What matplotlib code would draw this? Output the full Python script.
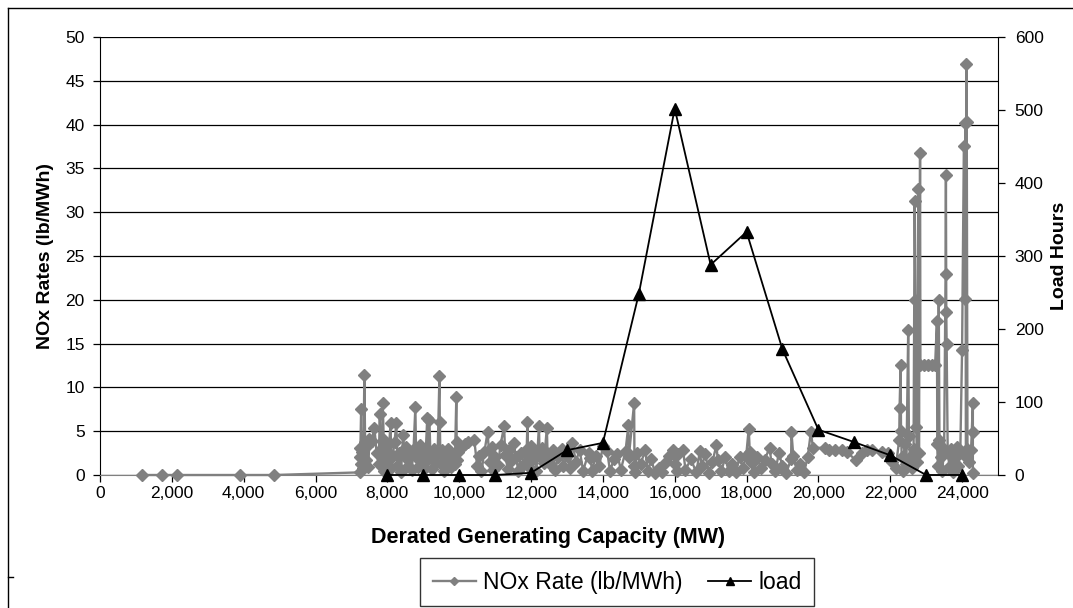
import matplotlib
matplotlib.use("Agg")
import matplotlib.pyplot as plt
from matplotlib.lines import Line2D
from matplotlib.ticker import FuncFormatter, MultipleLocator

plt.rcParams['font.family'] = ['Liberation Sans', 'DejaVu Sans']

# NOx rate for each unit, ordered by derated capacity (MW)
nox_mw = [1180, 1720, 2130, 3900, 4850,
          7230, 7230, 7250, 7270, 7280, 7300, 7330, 7360, 7380, 7400, 7430, 7470, 7500, 7560, 7640,
          7700, 7760, 7790, 7810, 7850, 7870, 7900, 7920, 7960, 8000, 8050, 8090, 8110, 8150, 8200,
          8250, 8280, 8320, 8380, 8440, 8480, 8520, 8580, 8620, 8680, 8730, 8780, 8800, 8850, 8900,
          8950, 9000, 9050, 9110, 9130, 9170, 9200, 9250, 9300, 9350, 9400, 9450, 9460, 9480, 9520,
          9580, 9650, 9700, 9760, 9820, 9880, 9920, 9930, 9940, 9960, 10050, 10150, 10250, 10420,
          10500, 10560, 10620, 10700, 10790, 10850, 10900, 10950, 11000, 11080, 11150, 11250, 11280,
          11350, 11400, 11450, 11520, 11580, 11650, 11720, 11800, 11880, 11900, 11920, 11960, 12000,
          12050, 12100, 12150, 12220, 12240, 12300, 12360, 12440, 12460, 12520, 12600, 12680, 12750,
          12850, 12900, 13000, 13080, 13150, 13250, 13350, 13450, 13600, 13650, 13700, 13800, 13900,
          14000, 14120, 14200, 14300, 14400, 14500, 14630, 14710, 14720, 14870, 14880, 14900, 14950,
          15050, 15180, 15250, 15350, 15450, 15550, 15650, 15750, 15850, 15950, 16000, 16050, 16100,
          16230, 16300, 16450, 16600, 16700, 16750, 16850, 16950, 17050, 17160, 17200, 17300, 17400,
          17500, 17600, 17700, 17810, 17900, 17990, 18060, 18090, 18150, 18200, 18300, 18400, 18500,
          18640, 18700, 18800, 18900, 19000, 19100, 19240, 19250, 19300, 19400, 19500, 19600, 19700,
          19790, 19850, 20170, 20300, 20450, 20660, 20800, 21040, 21200, 21350, 21500, 21770, 21950,
          22050, 22150, 22250, 22260, 22290, 22300, 22320, 22350, 22400, 22450, 22500, 22520, 22550,
          22600, 22650, 22680, 22700, 22720, 22750, 22780, 22800, 22830, 22840, 22950, 23050, 23150,
          23250, 23300, 23310, 23330, 23350, 23370, 23400, 23450, 23500, 23540, 23550, 23560, 23570,
          23600, 23650, 23700, 23750, 23800, 23850, 23900, 23950, 24000, 24050, 24080, 24090, 24110,
          24120, 24130, 24150, 24200, 24250, 24300, 24300, 24300]
nox_rate = [0, 0, 0, 0, 0,
            0.3, 2.0, 3.1, 7.5, 1.2, 2.6, 0.8, 11.4, 3.8, 1.7, 3.3, 0.9, 4.1, 3.9, 5.4,
            2.5, 1.2, 7.0, 3.0, 1.0, 8.2, 4.0, 0.5, 2.8, 1.5, 3.5, 5.9, 0.8, 2.2, 3.8,
            5.9, 1.0, 2.5, 0.3, 4.6, 2.0, 3.2, 1.0, 2.4, 0.6, 3.0, 7.8, 2.0, 0.9, 3.4,
            1.6, 2.6, 0.8, 6.5, 1.8, 6.3, 2.2, 0.7, 3.0, 1.4, 2.5, 11.3, 6.1, 1.2, 2.8,
            0.5, 1.9, 3.0, 0.9, 2.4, 1.3, 8.9, 3.8, 1.7, 2.6, 3.1, 3.5, 3.8, 4.0,
            1.0, 2.2, 0.4, 2.6, 4.9, 1.5, 3.2, 0.6, 2.0, 1.1, 3.4, 5.6, 2.3,
            0.7, 2.9, 1.6, 3.7, 2.0, 0.4, 2.5, 1.2, 3.0, 6.1, 2.2, 0.8, 3.3,
            1.8, 2.6, 0.5, 5.6, 2.0, 3.1, 1.4, 5.4, 2.4, 1.2, 2.8, 0.6, 2.0,
            3.0, 1.0, 2.2, 0.8, 3.7, 1.5, 2.9, 0.5, 2.5, 1.9, 0.5, 2.2, 1.0,
            3.3, 2.7, 0.4, 1.8, 2.4, 0.6, 2.7, 5.7, 2.0, 8.2, 1.0, 0.3, 2.5,
            1.2, 2.9, 0.4, 1.8, 0.2, 0.8, 0.3, 1.5, 2.2, 2.9, 1.2, 0.5, 2.4,
            2.9, 0.6, 1.8, 0.3, 2.7, 1.0, 2.4, 0.2, 1.5, 3.4, 1.7, 0.4, 2.0,
            0.5, 1.2, 0.3, 2.1, 0.8, 2.2, 5.3, 2.6, 1.4, 0.3, 2.0, 0.8, 1.7,
            3.1, 1.2, 0.4, 2.5, 1.0, 0.2, 1.8, 4.9, 2.2, 0.6, 1.3, 0.3, 2.0,
            4.9, 3.1, 3.1, 2.8, 2.9, 2.9, 2.6, 1.7, 2.5, 2.9, 2.9, 2.6, 2.5,
            1.5, 0.8, 4.0, 7.7, 12.6, 5.0, 2.0, 0.5, 3.5, 1.2, 16.5, 4.5, 2.0,
            0.8, 3.0, 31.3, 20.0, 5.5, 1.5, 32.7, 2.5, 36.8, 12.6, 12.6, 12.6, 12.6,
            12.6, 17.6, 3.5, 1.0, 20.0, 4.0, 2.0, 0.5, 3.0, 23.0, 34.2, 18.6, 15.0,
            2.5, 1.0, 3.0, 0.3, 2.0, 3.2, 1.0, 2.5, 14.3, 37.6, 20.1, 40.2, 2.0,
            46.9, 40.3, 3.0, 1.5, 2.8, 8.2, 4.9, 0.2]

# hours at each load level
load_mw = [8000, 9000, 10000, 11000, 12000, 13000, 14000, 15000, 16000, 17000,
           18000, 19000, 20000, 21000, 22000, 23000, 24000]
load_hours = [0, 0, 0, 0, 3, 34, 44, 248, 502, 288, 333, 172, 62, 45, 27, 0, 0]


def main():
    fig = plt.figure(figsize=(10.73, 6.08), dpi=100)
    ax = fig.add_axes([100 / 1073, 1 - 475 / 608, 898 / 1073, 438 / 608])
    ax2 = ax.twinx()

    # NOx series sits on top of the gridlines, load line on top of everything
    l1, = ax.plot(nox_mw, nox_rate, color='#808080', lw=1.7, marker='D', ms=6.3,
                  mec='#808080', mfc='#808080', label='NOx Rate (lb/MWh)', clip_on=False, zorder=3)
    l2, = ax2.plot(load_mw, load_hours, color='black', lw=1.3, marker='^', ms=8.5,
                   label='load', clip_on=False, zorder=4)

    ax.set_xlim(0, 25000)
    ax.set_ylim(0, 50)
    ax2.set_ylim(0, 600)

    ax.set_xticks(range(0, 24001, 2000))
    ax.xaxis.set_major_formatter(FuncFormatter(lambda v, p: '{:,.0f}'.format(v)))
    ax.yaxis.set_major_locator(MultipleLocator(5))
    ax2.yaxis.set_major_locator(MultipleLocator(100))

    ax.yaxis.grid(True, color='black', lw=0.9)
    ax.set_axisbelow(True)

    for a in (ax, ax2):
        a.spines['top'].set_visible(False)
        a.tick_params(labelsize=12.5, length=5, width=0.9, color='black', direction='out')
    ax.spines['right'].set_visible(False)
    ax2.spines['left'].set_visible(False)
    ax2.spines['bottom'].set_visible(False)
    ax.spines['bottom'].set_color('#808080')
    ax.tick_params(axis='x', pad=3)
    ax.tick_params(axis='y', pad=6)
    ax2.tick_params(axis='y', pad=7)

    ax.set_xlabel('Derated Generating Capacity (MW)', fontsize=15.5, fontweight='bold', va='center')
    ax.xaxis.set_label_coords(0.4994, -0.1416)
    ax.set_ylabel('NOx Rates (lb/MWh)', fontsize=14, fontweight='bold', va='center')
    ax.yaxis.set_label_coords(-0.0612, 0.5)
    ax2.set_ylabel('Load Hours', fontsize=14, fontweight='bold', va='center')
    ax2.yaxis.set_label_coords(1.069, 0.5)

    # chart border as in the spreadsheet export
    fig.add_artist(Line2D([8 / 1073, 8 / 1073], [0, 1 - 8 / 608], color='black', lw=1))
    fig.add_artist(Line2D([8 / 1073, 1], [1 - 8 / 608, 1 - 8 / 608], color='black', lw=1))
    fig.add_artist(Line2D([8 / 1073, 13 / 1073], [1 - 577 / 608, 1 - 577 / 608], color='black', lw=1))

    leg = fig.legend([l1, l2], ['NOx Rate (lb/MWh)', 'load'], loc='upper left',
                     bbox_to_anchor=(420 / 1073, 1 - 558 / 608), ncol=2, fontsize=16.5,
                     frameon=True, fancybox=False, borderpad=0.55, handlelength=1.9,
                     columnspacing=1.1, handletextpad=0.3, markerscale=0.6, borderaxespad=0)
    leg.get_frame().set_edgecolor('black')
    leg.get_frame().set_linewidth(1)

    fig.savefig('out.png', dpi=100)


if __name__ == "__main__":
    main()
